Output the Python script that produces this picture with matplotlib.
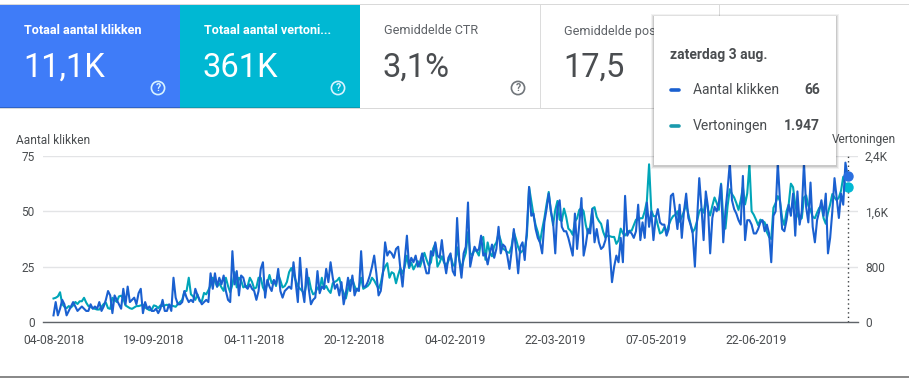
import matplotlib
matplotlib.use("Agg")
import matplotlib.pyplot as plt
from matplotlib.patches import Rectangle, Circle
import pandas as pd

plt.rcParams['font.family'] = ['Roboto', 'DejaVu Sans']

start_date = "2018-08-04"
clicks = [
    3,9,3,6,10,8,3,5,7,9,
    7,5,6,7,6,5,5,8,6,7,
    6,9,5,7,10,14,12,4,12,10,
    8,6,15,8,16,9,10,11,8,13,
    15,4,9,6,7,5,5,6,4,6,
    10,5,5,8,5,20,11,8,8,9,
    14,11,9,10,9,15,12,10,8,9,
    10,9,22,15,22,16,20,17,21,14,
    10,9,32,17,23,12,21,20,16,15,
    17,15,14,10,14,24,27,11,19,16,
    14,19,17,24,14,11,14,15,16,15,
    27,18,9,29,15,9,24,15,8,10,
    11,23,13,16,15,24,18,27,20,15,
    17,12,18,8,13,20,14,21,12,15,
    14,32,16,16,18,21,25,30,22,12,
    14,22,36,30,32,31,29,33,34,24,
    16,28,39,25,29,27,30,25,27,31,
    26,22,22,32,30,36,30,29,37,28,
    22,29,31,23,21,47,28,20,31,34,
    54,25,30,34,32,33,39,30,31,26,
    31,35,29,33,43,31,35,34,30,24,
    32,42,33,22,34,36,28,42,61,48,
    49,42,38,36,31,45,51,58,50,45,
    31,52,55,43,41,41,38,34,30,49,
    33,44,56,30,35,42,40,51,36,42,
    36,33,34,37,46,32,18,25,30,27,
    38,27,57,39,41,40,38,41,53,37,
    45,38,54,43,50,37,47,51,45,44,
    44,39,42,57,58,50,42,53,38,50,
    58,47,44,40,25,46,65,52,37,59,
    52,31,47,52,50,54,62,36,50,60,
    72,55,51,49,46,44,66,37,46,46,
    44,40,40,42,45,46,41,44,40,27,
    48,50,72,55,42,41,46,53,48,58,
    39,59,44,50,72,52,45,63,43,36,
    46,50,55,48,58,31,38,50,65,56,
    47,58,53,72,66,
]
impressions = [
    340,350,370,430,260,220,200,230,210,240,
    290,260,300,300,350,280,230,220,200,190,
    180,180,220,260,280,200,190,350,320,290,
    370,380,340,240,220,200,190,210,230,230,
    240,250,210,190,170,180,240,230,200,240,
    230,240,250,230,240,230,220,260,290,320,
    440,450,640,400,370,320,400,300,300,420,
    400,460,530,640,590,510,560,500,450,640,
    520,430,540,720,500,640,600,500,520,520,
    640,580,480,500,640,640,500,440,560,680,
    560,600,520,690,600,500,520,580,720,780,
    700,600,520,480,450,400,560,640,480,400,
    420,500,460,640,480,520,460,420,560,580,
    600,640,500,420,340,480,600,620,520,450,
    500,640,480,500,520,560,640,600,540,480,
    560,720,800,850,640,720,700,560,680,780,
    700,800,960,780,860,760,820,880,800,900,
    1000,900,820,860,1060,1130,800,860,950,860,
    820,880,960,840,800,1080,900,760,900,1000,
    1300,1000,960,1050,1020,960,1180,1230,900,1150,
    1000,950,1100,1150,1280,1180,1060,1040,1010,1000,
    1100,1300,1200,1080,1000,1030,1060,1250,1950,1750,
    1550,1400,1300,1150,1340,1500,1700,1880,1600,1400,
    1620,1750,1480,1460,1640,1520,1350,1320,1260,1450,
    1500,1620,1650,1600,1400,1280,1380,1640,1660,1520,
    1460,1420,1300,1220,1250,1240,1230,1230,1130,1180,
    1350,1280,1250,1300,1320,1320,1400,1480,1480,1500,
    1500,1600,1750,2280,1620,1530,1530,1400,1280,1300,
    1370,1300,1400,1480,1530,1550,1600,1450,1520,1600,
    1700,1560,1420,1300,1350,1460,1600,1640,1580,1780,
    1620,1540,1680,1800,1720,1620,2000,1500,1350,1680,
    1920,1850,1800,1720,1620,1760,1950,1700,1860,2280,
    1600,1550,1480,1400,1480,1460,1440,1300,1230,1200,
    1650,1720,1820,1750,1500,1400,1600,1700,2000,1950,
    1700,1550,1480,1500,1800,1830,1680,1620,1520,1500,
    1580,1650,1680,1500,1420,1580,1700,1850,1800,1760,
    1800,1900,2100,1980,1947,
]
x_tick_dates = ["2018-08-04","2018-09-19","2018-11-04","2018-12-20",
                "2019-02-04","2019-03-22","2019-05-07","2019-06-22"]
left_ticks = [0, 25, 50, 75]
right_ticks = [0, 800, 1600, 2400]
right_tick_labels = ["0", "800", "1,6K", "2,4K"]
card_titles = ["Totaal aantal klikken", "Totaal aantal vertoni...", "Gemiddelde CTR", "Gemiddelde positie"]
card_values = ["11,1K", "361K", "3,1%", "17,5"]
tooltip_title = "zaterdag 3 aug."
tooltip_rows = [("Aantal klikken", "66"), ("Vertoningen", "1.947")]

W, H = 909, 379
BLUE = "#3f7cf8"; TEAL = "#00b8d3"
LINE_BLUE = "#1a60d0"; LINE_TEAL = "#00a5b8"
TXT = "#4a4d50"; GRID = "#e3e4e6"

fig = plt.figure(figsize=(W/100, H/100), dpi=100, facecolor="white")

# background card layer
bg = fig.add_axes([0, 0, 1, 1], zorder=0)
bg.set_xlim(0, W); bg.set_ylim(H, 0); bg.axis("off")
bg.add_patch(Rectangle((0, 4), W, 1.2, color="#d9d9d9", lw=0))
bg.add_patch(Rectangle((0, 107.6), 719, 1.2, color="#d9d9d9", lw=0))
bg.add_patch(Rectangle((0, 375.5), W, 2.2, color="#8a8a8a", lw=0))
bg.add_patch(Rectangle((719, 5), 1, 103, color="#dcdcdc", lw=0))
bg.add_patch(Rectangle((0, 5), 180, 103, color=BLUE, lw=0))
bg.add_patch(Rectangle((180, 5), 180, 103, color=TEAL, lw=0))
bg.add_patch(Rectangle((0, 106.8), 180, 1.6, color="#2f63c8", lw=0))
bg.add_patch(Rectangle((180, 106.8), 180, 1.6, color="#0a9cb2", lw=0))
bg.add_patch(Rectangle((540, 5), 1, 103, color="#dcdcdc", lw=0))
card_x = [24, 204, 384, 564]
icon_x = [158, 338, 518]
for i, (t, v, cx) in enumerate(zip(card_titles, card_values, card_x)):
    col = "white" if i < 2 else "#5f6368"
    vcol = "white" if i < 2 else TXT
    bg.text(cx, 31, t, color=col, fontsize=9.1, va="center", ha="left",
            fontweight="bold" if i < 2 else "normal")
    bg.text(cx - 1, 68, v, color=vcol, fontsize=23.5, va="center", ha="left")
for i, ix in enumerate(icon_x):
    c = "#d8f3ff" if i < 2 else "#70757a"
    bg.add_patch(Circle((ix, 88), 6.6, fill=False, ec=c, lw=1.2))
    bg.text(ix, 88.3, "?", color=c, fontsize=7.5, ha="center", va="center", fontweight="bold")

# chart
px_left, px_right, px_top, px_bottom = 43, 858, 156, 322
dates = pd.date_range(start_date, periods=len(clicks), freq="D")
pos = [px_left/W, 1 - px_bottom/H, (px_right - px_left)/W, (px_bottom - px_top)/H]
ax2 = fig.add_axes(pos, zorder=1)
ax = fig.add_axes(pos, zorder=2)
ax.patch.set_alpha(0); ax2.patch.set_alpha(0)
px_per_day = (847.6 - 53.5) / 364
xmin = dates[0] + pd.Timedelta(days=(px_left - 53.5)/px_per_day)
xmax = dates[0] + pd.Timedelta(days=(px_right - 53.5)/px_per_day)
for a in (ax, ax2):
    a.set_xlim(xmin, xmax)
    for s in a.spines.values():
        s.set_visible(False)
ax.set_ylim(0, 75); ax2.set_ylim(0, 2400)

ax2.set_yticks(right_ticks); ax2.set_yticklabels(right_tick_labels, fontsize=8.6, color=TXT)
ax2.yaxis.tick_right()
ax2.tick_params(axis="y", length=0, pad=5)
ax2.grid(axis="y", color=GRID, lw=1)
ax2.set_axisbelow(True)
ax2.set_xticks([])
ax2.spines["bottom"].set_visible(True)
ax2.spines["bottom"].set_color("#5f6368")
ax2.spines["bottom"].set_linewidth(1)
ax2.plot(dates, impressions, color=LINE_TEAL, lw=1.5, solid_joinstyle="round", clip_on=False)
ax2.axvline(dates[-1], color="#3c4043", lw=1, ls=(0, (1, 2.2)))
ax2.plot(dates[-1], impressions[-1], "o", color=TEAL, ms=6.5, clip_on=False)

ax.set_yticks(left_ticks); ax.set_yticklabels([str(t) for t in left_ticks], fontsize=8.6, color=TXT)
ax.tick_params(axis="y", length=0, pad=6)
tick_ds = pd.to_datetime(x_tick_dates)
ax.set_xticks(tick_ds)
ax.set_xticklabels([d.strftime("%d-%m-%Y") for d in tick_ds], fontsize=8.7, color=TXT)
ax.tick_params(axis="x", length=0, pad=9)
ax.plot(dates, clicks, color=LINE_BLUE, lw=1.5, solid_joinstyle="round", clip_on=False)
ax.plot(dates[-1], clicks[-1], "o", color="#2a6fe0", ms=6.5, clip_on=False)

# axis titles and tooltip layer
fg = fig.add_axes([0, 0, 1, 1], zorder=5)
fg.set_xlim(0, W); fg.set_ylim(H, 0); fg.axis("off"); fg.patch.set_alpha(0)
fg.text(15.5, 140, "Aantal klikken", fontsize=8.6, color=TXT, ha="left", va="center")
fg.text(896, 140, "Vertoningen", fontsize=8.6, color=TXT, ha="right", va="center")
for off, a in ((3, .05), (2, .07), (1, .10)):
    fg.add_patch(Rectangle((654 - off, 16 - off + 1), 182 + 2*off, 149 + 2*off, color="black", alpha=a, lw=0))
fg.add_patch(Rectangle((654, 16), 182, 149, color="white", lw=0))
fg.text(669.5, 54.5, tooltip_title, fontsize=10, fontweight="bold", color=TXT, ha="left", va="center")
row_y = [90, 126]
row_c = [LINE_BLUE, "#1a9aad"]
for (lab, val), y, c in zip(tooltip_rows, row_y, row_c):
    fg.plot([671, 679], [y - 0.5, y - 0.5], color=c, lw=2.6, solid_capstyle="round")
    fg.text(693, y, lab, fontsize=10, color=TXT, ha="left", va="center")
    fg.text(820, y, val, fontsize=10, color=TXT, ha="right", va="center", fontweight="bold")

fig.savefig("out.png", dpi=100, facecolor="white")
